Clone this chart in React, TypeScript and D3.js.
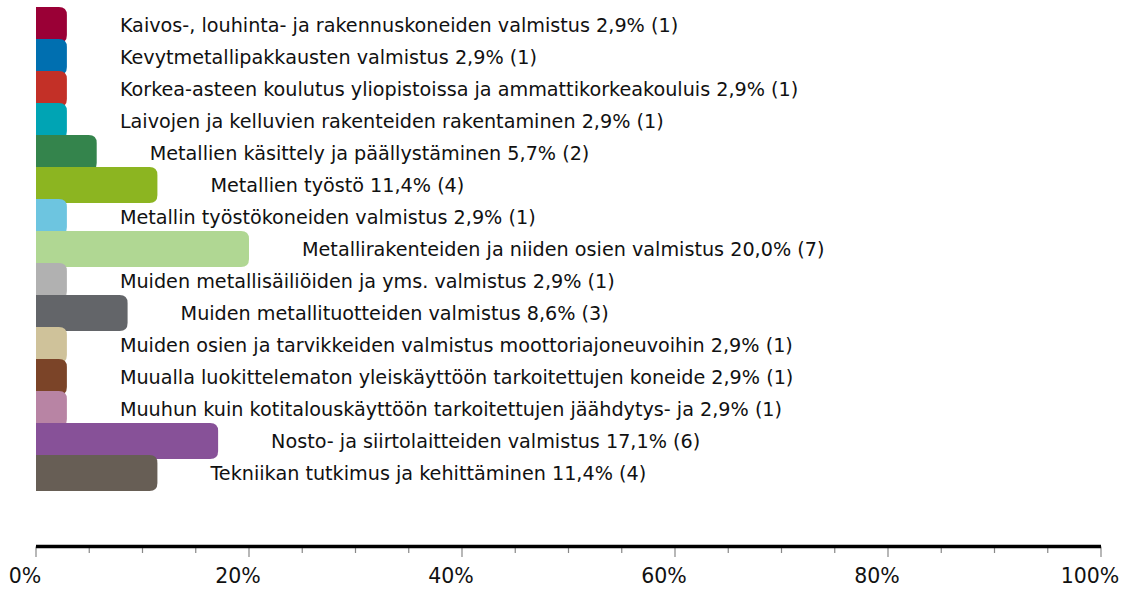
import React from "react";
import * as d3 from "d3";

const categories = [
  "Kaivos-, louhinta- ja rakennuskoneiden valmistus",
  "Kevytmetallipakkausten valmistus",
  "Korkea-asteen koulutus yliopistoissa ja ammattikorkeakouluis",
  "Laivojen ja kelluvien rakenteiden rakentaminen",
  "Metallien käsittely ja päällystäminen",
  "Metallien työstö",
  "Metallin työstökoneiden valmistus",
  "Metallirakenteiden ja niiden osien valmistus",
  "Muiden metallisäiliöiden ja yms. valmistus",
  "Muiden metallituotteiden valmistus",
  "Muiden osien ja tarvikkeiden valmistus moottoriajoneuvoihin",
  "Muualla luokittelematon yleiskäyttöön tarkoitettujen koneide",
  "Muuhun kuin kotitalouskäyttöön tarkoitettujen jäähdytys- ja",
  "Nosto- ja siirtolaitteiden valmistus",
  "Tekniikan tutkimus ja kehittäminen",
];
const percents = [2.9, 2.9, 2.9, 2.9, 5.7, 11.4, 2.9, 20.0, 2.9, 8.6, 2.9, 2.9, 2.9, 17.1, 11.4];
const counts = [1, 1, 1, 1, 2, 4, 1, 7, 1, 3, 1, 1, 1, 6, 4];
const colors = [
  "#9A0036", "#006FB0", "#C33027", "#00A4B4", "#34844C", "#8CB521", "#6DC5E0", "#B0D793",
  "#B1B1B1", "#636569", "#CFC29A", "#7B4428", "#B884A4", "#875198", "#675E55",
];
const majorTicks = [0, 20, 40, 60, 80, 100];
const minorTicks = d3.range(0, 101, 5);

const W = 1129;
const H = 589;

function barPath(x0: number, x1: number, y: number, h: number, r: number) {
  const rr = Math.min(r, (x1 - x0) / 2, h / 2);
  return `M${x0},${y}H${x1 - rr}Q${x1},${y} ${x1},${y + rr}V${y + h - rr}Q${x1},${y + h} ${x1 - rr},${y + h}H${x0}Z`;
}

export default function App() {
  const x = d3.scaleLinear().domain([0, 100]).range([36, 1101]);
  const y = d3.scaleBand<number>().domain(d3.range(categories.length)).range([7, 7 + 32 * 15]).paddingInner(0).paddingOuter(0);
  const barH = 36;
  const fmt = (v: number) => v.toFixed(1).replace(".", ",") + "%";
  const axisY = 546.5;
  return (
    <svg width={W} height={H} style={{ position: "absolute", left: 0, top: 0, background: "#fff" }}
      fontFamily="'DejaVu Sans', Verdana, sans-serif">
      {percents.map((p, i) => (
        <path key={"b" + i} d={barPath(x(0), x(p), y(i)!, barH, 8)} fill={colors[i]} />
      ))}
      {percents.map((p, i) => (
        <text key={"t" + i} x={x(p) + 53} y={y(i)! + 18} dy="0.36em" fontSize={19.2} fill="#111">
          {`${categories[i]} ${fmt(p)} (${counts[i]})`}
        </text>
      ))}
      {minorTicks.map((t) => (
        <line key={"m" + t} x1={x(t)} x2={x(t)} y1={axisY} y2={majorTicks.includes(t) ? 557 : 553}
          stroke="#888" strokeWidth={1.2} />
      ))}
      <line x1={x(0)} x2={x(100)} y1={axisY} y2={axisY} stroke="#000" strokeWidth={3.5} />
      {majorTicks.map((t) => (
        <text key={"l" + t} x={x(t) - 11} y={583} textAnchor="middle" fontSize={20.5} fill="#111">
          {t + "%"}
        </text>
      ))}
    </svg>
  );
}
